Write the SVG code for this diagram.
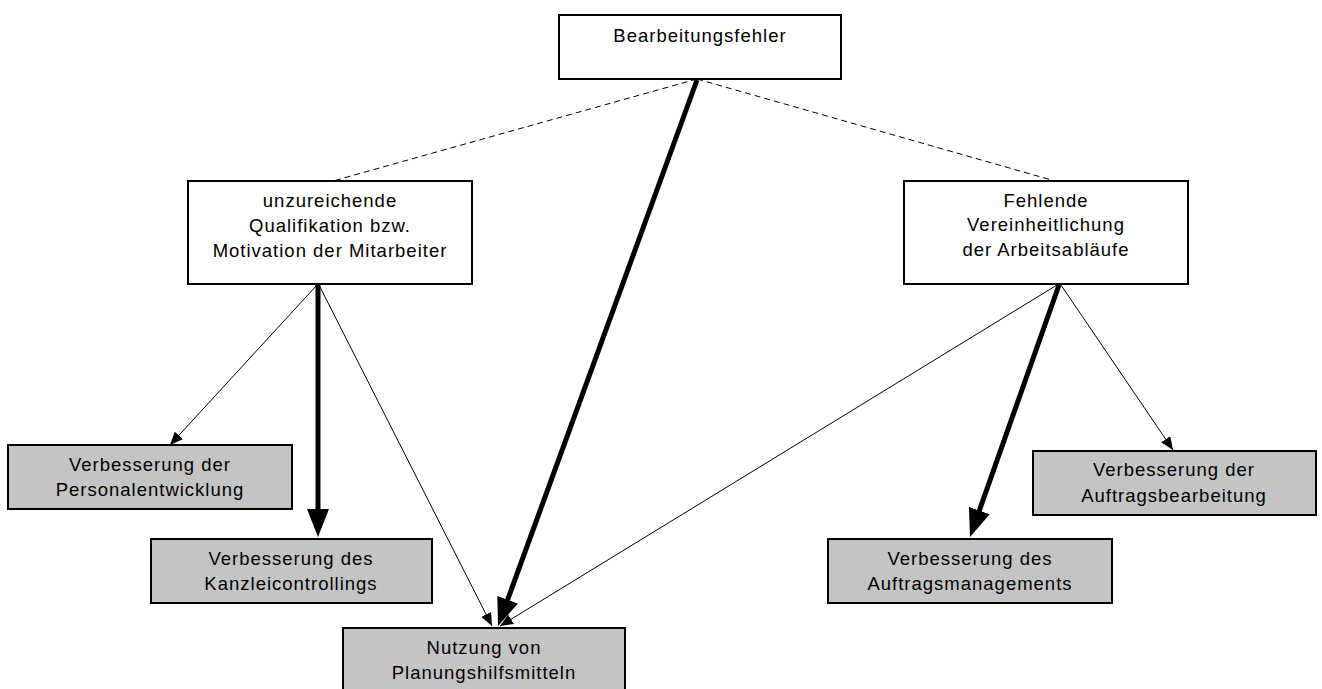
<svg xmlns="http://www.w3.org/2000/svg" width="1322" height="689" viewBox="0 0 1322 689">
<style>
.box{fill:#ffffff;stroke:#000;stroke-width:2}
.gbox{fill:#c4c4c4;stroke:#000;stroke-width:2}
text{font-family:"Liberation Sans",Arial,sans-serif;font-size:18.5px;letter-spacing:1px;fill:#000;text-anchor:middle}
.thin{stroke:#000;stroke-width:1;fill:none}
.thick{stroke:#000;stroke-width:5;fill:none}
.dash{stroke:#000;stroke-width:1;fill:none;stroke-dasharray:6 4}
</style>
<defs>
<marker id="ah" markerUnits="userSpaceOnUse" markerWidth="13" markerHeight="11" refX="13" refY="5.5" orient="auto"><path d="M0,0 L13,5.5 L0,11 z" fill="#000"/></marker>
<marker id="ahb" markerUnits="userSpaceOnUse" markerWidth="28" markerHeight="22" refX="10" refY="11" orient="auto"><path d="M0,0 L28,11 L0,22 z" fill="#000"/></marker>
</defs>
<rect width="1322" height="689" fill="#fff"/>
<g id="connectors">
<line class="dash" x1="697" y1="79" x2="333" y2="181"/>
<line class="dash" x1="697" y1="79" x2="1055" y2="181"/>
<line class="thick" x1="697" y1="80" x2="504.2" y2="609.1" marker-end="url(#ahb)"/>
<line class="thick" x1="318" y1="285" x2="318" y2="519" marker-end="url(#ahb)"/>
<line class="thick" x1="1059" y1="285" x2="976" y2="520" marker-end="url(#ahb)"/>
<line class="thin" x1="317" y1="285" x2="170" y2="445" marker-end="url(#ah)"/>
<line class="thin" x1="319" y1="285" x2="492" y2="626" marker-end="url(#ah)"/>
<line class="thin" x1="1057" y1="285" x2="500" y2="626" marker-end="url(#ah)"/>
<line class="thin" x1="1061" y1="285" x2="1173" y2="450" marker-end="url(#ah)"/>
</g>
<g id="n-top">
<rect class="box" x="559" y="15" width="282" height="64"/>
<text x="700" y="42">Bearbeitungsfehler</text>
</g>
<g id="n-left">
<rect class="box" x="188" y="181" width="284" height="103"/>
<text x="330" y="207">unzureichende</text>
<text x="330" y="232">Qualifikation bzw.</text>
<text x="330" y="257">Motivation der Mitarbeiter</text>
</g>
<g id="n-right">
<rect class="box" x="904" y="181" width="284" height="103"/>
<text x="1046" y="207">Fehlende</text>
<text x="1046" y="231">Vereinheitlichung</text>
<text x="1046" y="256">der Arbeitsabläufe</text>
</g>
<g id="n-personal">
<rect class="gbox" x="8" y="445" width="284" height="64"/>
<text x="150" y="471">Verbesserung der</text>
<text x="150" y="496">Personalentwicklung</text>
</g>
<g id="n-kanzlei">
<rect class="gbox" x="151" y="539" width="281" height="64"/>
<text x="291" y="565">Verbesserung des</text>
<text x="291" y="590">Kanzleicontrollings</text>
</g>
<g id="n-nutzung">
<rect class="gbox" x="343" y="628" width="282" height="70"/>
<text x="484" y="654">Nutzung von</text>
<text x="484" y="679">Planungshilfsmitteln</text>
</g>
<g id="n-auftragsmanagement">
<rect class="gbox" x="828" y="539" width="284" height="64"/>
<text x="970" y="565">Verbesserung des</text>
<text x="970" y="590">Auftragsmanagements</text>
</g>
<g id="n-auftragsbearbeitung">
<rect class="gbox" x="1033" y="451" width="283" height="64"/>
<text x="1174" y="476">Verbesserung der</text>
<text x="1174" y="502">Auftragsbearbeitung</text>
</g>
</svg>
